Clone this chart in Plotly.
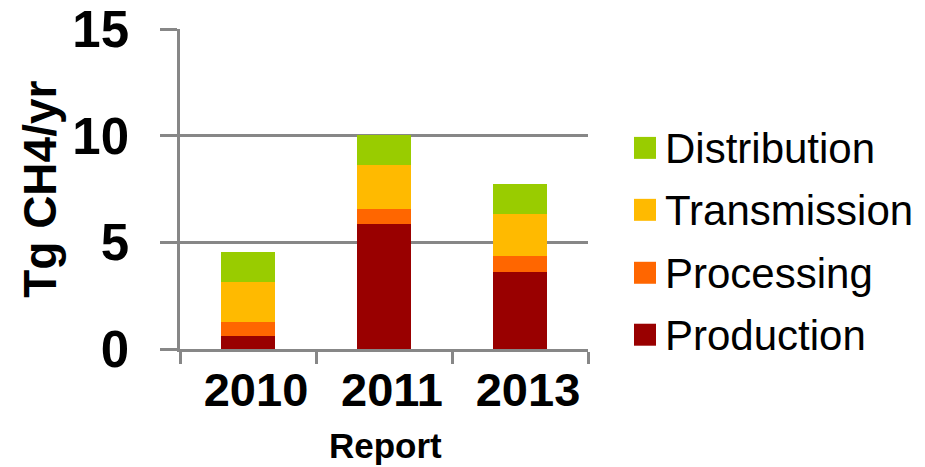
import plotly.graph_objects as go

reports = ["2010", "2011", "2013"]
production = [0.62, 5.84, 3.59]
processing = [0.63, 0.74, 0.75]
transmission = [1.89, 2.04, 1.97]
distribution = [1.41, 1.43, 1.43]

series = [
    ("Production", production, "#990000"),
    ("Processing", processing, "#FF6600"),
    ("Transmission", transmission, "#FFBA00"),
    ("Distribution", distribution, "#99CC00"),
]

W, H = 925, 467
L, R, T, B = 180, 588, 29, 349.3
FONT = "Liberation Sans, Arial, sans-serif"
GRID = "#878787"

def px(x):
    return (x - L) / (R - L)

def py(y):
    return (B - y) / (B - T)

fig = go.Figure()
for name, vals, col in series:
    fig.add_trace(go.Bar(x=reports, y=vals, name=name, marker=dict(color=col, line=dict(width=0)),
                         showlegend=False))

# custom legend (top to bottom reversed order)
legend_rows = [("Distribution", "#99CC00", 148), ("Transmission", "#FFBA00", 210),
               ("Processing", "#FF6600", 273), ("Production", "#990000", 335)]
shapes = []
annotations = []
for name, col, cy in legend_rows:
    shapes.append(dict(type="rect", xref="paper", yref="paper",
                       x0=px(634), x1=px(656), y0=py(cy + 11), y1=py(cy - 11),
                       fillcolor=col, line=dict(width=0)))
    annotations.append(dict(text=name, xref="paper", yref="paper", x=px(663), y=py(cy + 1),
                            xanchor="left", yanchor="middle", showarrow=False,
                            font=dict(family=FONT, size=42, color="black")))

annotations.append(dict(text="<b>Tg CH4/yr</b>", xref="paper", yref="paper", x=px(40), y=py(190),
                        xanchor="center", yanchor="middle", textangle=-90, showarrow=False,
                        font=dict(family=FONT, size=46, color="black")))
annotations.append(dict(text="<b>Report</b>", xref="paper", yref="paper", x=px(385), y=py(446),
                        xanchor="center", yanchor="middle", showarrow=False,
                        font=dict(family=FONT, size=35, color="black")))

fig.update_layout(
    width=W, height=H,
    margin=dict(l=L, r=W - R, t=T, b=H - B, autoexpand=False),
    barmode="stack", bargap=0.6,
    plot_bgcolor="white", paper_bgcolor="white",
    shapes=shapes, annotations=annotations,
    xaxis=dict(type="category", showgrid=False, showline=True, linecolor=GRID, linewidth=2.5,
               ticks="outside", tickson="boundaries", ticklen=12, tickwidth=2.5, tickcolor=GRID,
               tickfont=dict(family=FONT, size=47, color="black", weight="bold"),
               ticklabelstandoff=-2, ticklabelshift=8, automargin=False),
    yaxis=dict(range=[0, 15], tickvals=[0, 5, 10, 15], showgrid=True, gridcolor=GRID, gridwidth=2.5,
               showline=True, linecolor=GRID, linewidth=2.5, zeroline=False,
               ticks="outside", ticklen=17, tickwidth=2.5, tickcolor=GRID,
               tickfont=dict(family=FONT, size=51, color="black", weight="bold"),
               ticklabelstandoff=21, automargin=False),
)

fig.write_html("out.html")
